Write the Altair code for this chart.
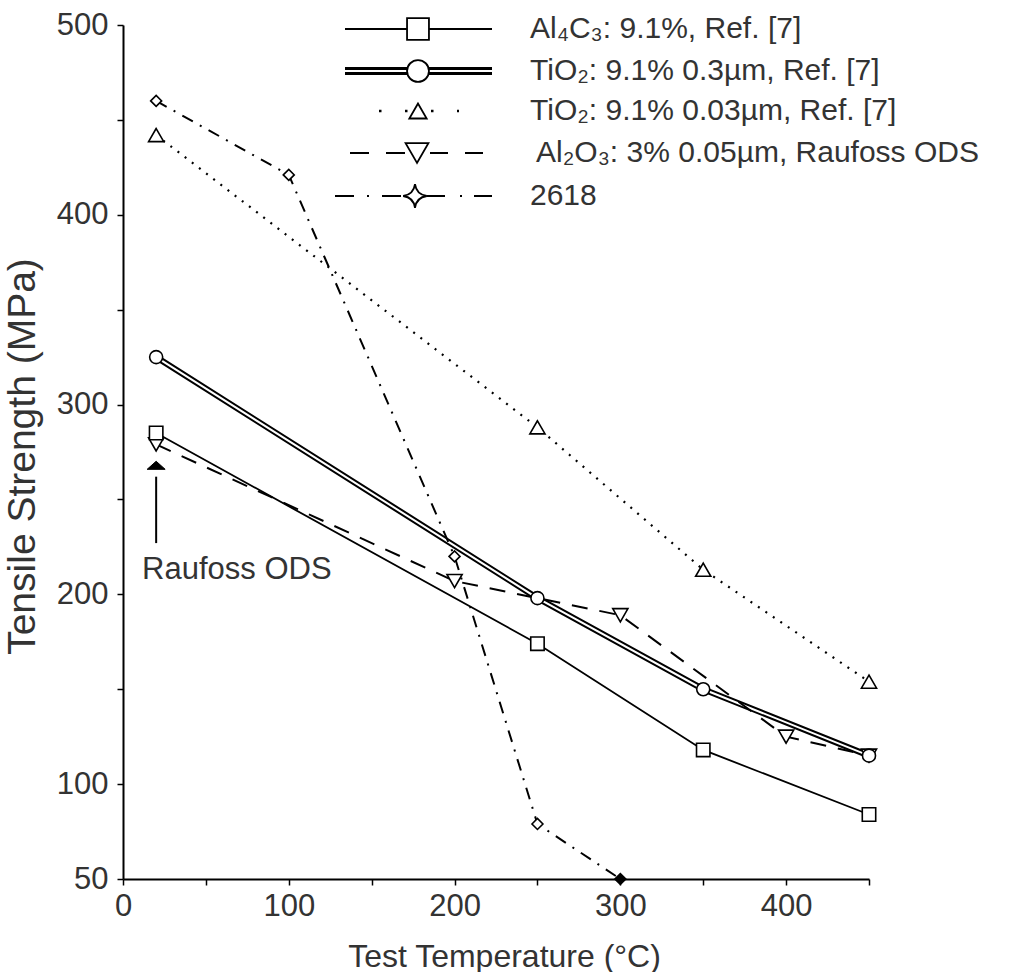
import altair as alt
import pandas as pd

FONT = "Liberation Sans"
TEXT = "#333333"

# ---- data ----
series_names = [
    "Al₄C₃: 9.1%, Ref. [7]",
    "TiO₂: 9.1% 0.3µm, Ref. [7]",
    "TiO₂: 9.1% 0.03µm, Ref. [7]",
    "Al₂O₃: 3% 0.05µm, Raufoss ODS",
    "2618",
]

al4c3_temp = [20, 250, 350, 450]
al4c3_uts = [285, 174, 118, 84]

tio2_coarse_temp = [20, 250, 350, 450]
tio2_coarse_uts = [325, 198, 150, 115]

tio2_fine_temp = [20, 250, 350, 450]
tio2_fine_uts = [442, 288, 213, 154]

al2o3_temp = [20, 200, 300, 400, 450]
al2o3_uts = [279, 207, 189, 125, 115]

a2618_temp = [20, 100, 200, 250, 300]
a2618_uts = [460, 421, 220, 79, 50]

arrow_temp = [20, 20]
arrow_uts = [227, 262]
arrow_head_temp = [20]
arrow_head_uts = [268]
note_text = ["Raufoss ODS"]
note_temp = [11.5]
note_uts = [208]

x_ticks = list(range(0, 451, 50))
y_ticks = list(range(50, 501, 50))


def frame(t, v):
    return pd.DataFrame({"t": t, "v": v})


xs = alt.Scale(domain=[0, 450], nice=False, zero=False)
ys = alt.Scale(domain=[50, 500], nice=False, zero=False)

x_axis = alt.Axis(
    values=x_ticks,
    labelExpr="datum.value % 100 == 0 ? datum.label : ''",
    title="Test Temperature (°C)",
    grid=False, domainColor="black", domainWidth=2,
    tickColor="black", tickWidth=1.5, tickSize=6,
    labelFont=FONT, labelFontSize=31, labelColor=TEXT, labelPadding=6,
    labelOverlap=False, labelFlush=False,
    titleFont=FONT, titleFontSize=32, titleFontWeight="normal", titleColor=TEXT,
    titleX=381, titleY=87, titleAlign="center", titleBaseline="alphabetic",
)
y_axis = alt.Axis(
    values=y_ticks,
    labelExpr="(datum.value % 100 == 0 || datum.value == 50) ? datum.label : ''",
    title="Tensile Strength (MPa)",
    grid=False, domainColor="black", domainWidth=2,
    tickColor="black", tickWidth=1.5, tickSize=6,
    labelFont=FONT, labelFontSize=31, labelColor=TEXT, labelPadding=9,
    labelOverlap=False, labelFlush=False,
    titleFont=FONT, titleFontSize=39, titleFontWeight="normal", titleColor=TEXT,
    titleX=-89, titleY=431, titleAngle=270, titleAlign="center", titleBaseline="alphabetic",
)

X = alt.X("t:Q", scale=xs, axis=x_axis)
Y = alt.Y("v:Q", scale=ys, axis=y_axis)


def line(df, **kw):
    return alt.Chart(df).mark_line(color="black", **kw).encode(x=X, y=Y)


def pts(df, shape, size, fill="white"):
    return alt.Chart(df).mark_point(
        shape=shape, size=size, filled=True, fill=fill, stroke="black",
        strokeWidth=1.6, opacity=1,
    ).encode(x=X, y=Y)


d_al4c3 = frame(al4c3_temp, al4c3_uts)
d_coarse = frame(tio2_coarse_temp, tio2_coarse_uts)
d_fine = frame(tio2_fine_temp, tio2_fine_uts)
d_al2o3 = frame(al2o3_temp, al2o3_uts)
d_2618 = frame(a2618_temp, a2618_uts)

layers = [
    line(d_coarse, strokeWidth=6),
    line(d_coarse, strokeWidth=2).encode(color=alt.value("white")),
    line(d_al4c3, strokeWidth=1.8),
    line(d_fine, strokeWidth=2.2, strokeDash=[2, 7]),
    line(d_al2o3, strokeWidth=2, strokeDash=[16, 12]),
    line(d_2618, strokeWidth=2, strokeDash=[12, 8, 2, 8]),
    pts(d_al2o3, "triangle-down", 230),
    pts(d_al4c3, "square", 180),
    pts(d_coarse, "circle", 170),
    pts(d_fine, "triangle-up", 230),
    alt.Chart(d_2618).mark_point(
        shape="diamond", size=120, filled=True, stroke="black", strokeWidth=1.6, opacity=1
    ).encode(
        x=X, y=Y,
        fill=alt.condition("datum.t == 300", alt.value("black"), alt.value("white")),
    ),
    # annotation arrow
    line(frame(arrow_temp, arrow_uts), strokeWidth=2),
    alt.Chart(frame(arrow_head_temp, arrow_head_uts)).mark_point(
        shape="M0,-0.45 L1,0.45 L-1,0.45 Z", size=324, filled=True, fill="black",
        stroke="black", strokeWidth=1, opacity=1,
    ).encode(x=X, y=Y),
    alt.Chart(pd.DataFrame({"t": note_temp, "v": note_uts, "txt": note_text})).mark_text(
        font=FONT, fontSize=31, color=TEXT, align="left", baseline="alphabetic"
    ).encode(x=X, y=Y, text="txt:N"),
]

# ---- hand-drawn legend (pixel positions relative to plot origin) ----
one = alt.Data(values=[{}])
row_y = [4, 46, 86, 128, 171]
sym_x = 295
text_x = 407


def seg(x1, x2, y, **kw):
    return alt.Chart(one).mark_rule(color="black", **kw).encode(
        x=alt.value(x1), x2=alt.value(x2), y=alt.value(y)
    )


def sym(y, shape, size, sx=sym_x):
    return alt.Chart(one).mark_point(
        shape=shape, size=size, filled=True, fill="white", stroke="black",
        strokeWidth=1.8, opacity=1,
    ).encode(x=alt.value(sx), y=alt.value(y))


star = "M0,-1 Q0.12,-0.12 1,0 Q0.12,0.12 0,1 Q-0.12,0.12 -1,0 Q-0.12,-0.12 0,-1 Z"

legend = [
    seg(222, 369, row_y[0], strokeWidth=2),
    sym(row_y[0], "square", 480),
    seg(222, 369, row_y[1], strokeWidth=8),
    seg(222, 369, row_y[1], strokeWidth=2).encode(color=alt.value("white")),
    sym(row_y[1], "circle", 480),
    seg(256, 336, row_y[2], strokeWidth=2.5, strokeDash=[2.5, 23.5]),
    sym(row_y[2], "triangle-up", 300),
    seg(227, 283, row_y[3], strokeWidth=2.2, strokeDash=[19, 17]),
    seg(307, 361, row_y[3], strokeWidth=2.2, strokeDash=[18, 17]),
    sym(row_y[3], "triangle-down", 520, sx=294),
    seg(212, 281, row_y[4], strokeWidth=2.2, strokeDash=[19, 13, 2, 13]),
    seg(304, 372, row_y[4], strokeWidth=2.2, strokeDash=[18, 15, 2, 12]),
    sym(row_y[4], star, 560, sx=292),
]
for i, name in enumerate(series_names):
    legend.append(
        alt.Chart(one).mark_text(
            font=FONT, fontSize=30, color=TEXT, align="left", baseline="middle",
            text=name,
        ).encode(x=alt.value(text_x + (6 if i == 3 else 0)), y=alt.value(row_y[i]))
    )

chart = alt.layer(*layers, *legend).properties(
    width=746,
    height=854,
    padding={"left": 123, "top": 25, "right": 143, "bottom": 93},
    autosize=alt.AutoSizeParams(type="none"),
    background="white",
).configure_view(stroke=None)

chart.save("out.html", embed_options={"renderer": "svg", "actions": False})
